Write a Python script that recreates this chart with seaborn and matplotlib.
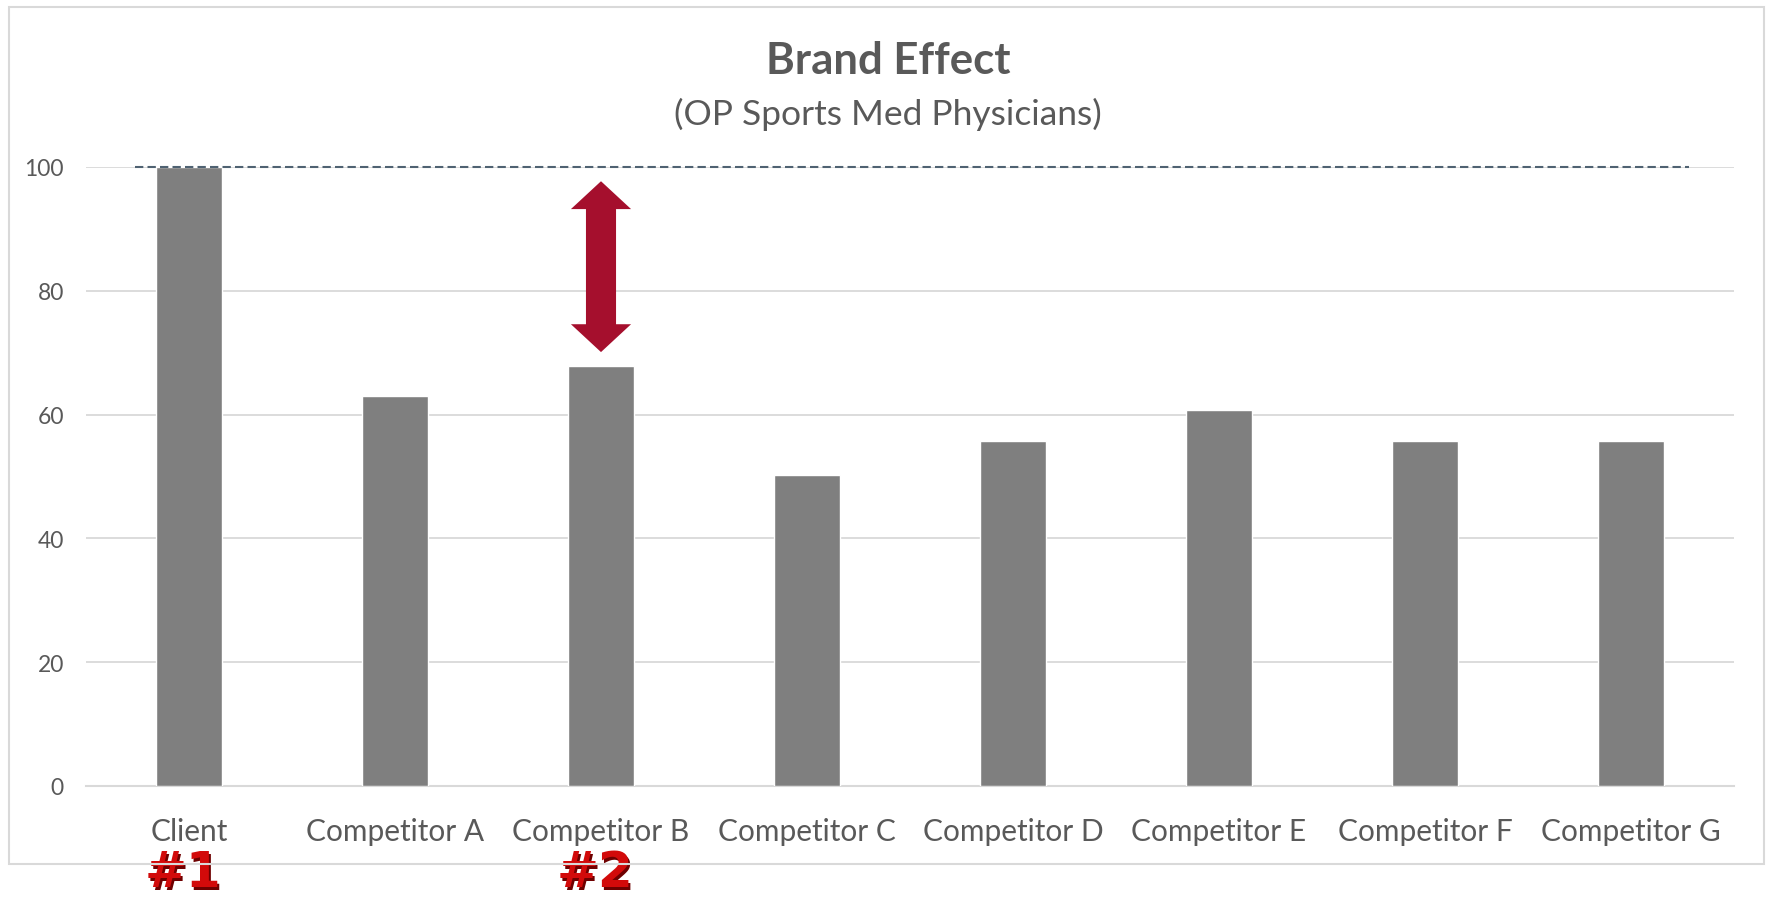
import pandas as pd
import seaborn as sns
import matplotlib.pyplot as plt
import matplotlib.patches as mpatches

brands = ["Client", "Competitor A", "Competitor B", "Competitor C",
          "Competitor D", "Competitor E", "Competitor F", "Competitor G"]
scores = [100, 63.0, 67.8, 50.3, 55.7, 60.7, 55.7, 55.7]
ranks = {"Client": "#1", "Competitor B": "#2"}
y_ticks = [0, 20, 40, 60, 80, 100]

df = pd.DataFrame({"brand": brands, "score": scores})

sns.set_theme(style="white")
plt.rcParams["font.family"] = ["Lato", "DejaVu Sans"]

W, H = 1767, 903
fig = plt.figure(figsize=(W / 100, H / 100), dpi=100)
ax = fig.add_axes([86 / W, (H - 787) / H, (1734 - 86) / W, (787 - 168) / H])

sns.barplot(data=df, x="brand", y="score", color="#7f7f7f", width=0.32,
            saturation=1, ax=ax, zorder=3)

ax.set_xlim(-0.5, len(brands) - 0.5)
ax.set_ylim(0, 100)
ax.set_yticks(y_ticks)
ax.grid(axis="y", color="#d9d9d9", lw=1.3, zorder=0)
ax.set_axisbelow(True)
for s in ["top", "right", "left"]:
    ax.spines[s].set_visible(False)
ax.spines["bottom"].set_color("#d9d9d9")
ax.spines["bottom"].set_linewidth(1.5)
ax.tick_params(axis="y", length=0, pad=16, labelsize=16.5, labelcolor="#595959")
ax.tick_params(axis="x", length=0, pad=22, labelsize=21.5, labelcolor="#595959")
ax.set_xlabel("")
ax.set_ylabel("")

# dashed reference line at the client level
ax.plot([-0.26, 7.28], [scores[0], scores[0]], color="#4f6272", lw=1.5,
        dashes=(4, 2), zorder=4, clip_on=False)

# double-headed gap arrow over Competitor B
bx = brands.index("Competitor B")
top, bot = 97.7, 70.1
hw, sw, hl = 0.146, 0.073, 4.5
arrow = mpatches.Polygon([
    (bx, top), (bx + hw, top - hl), (bx + sw, top - hl), (bx + sw, bot + hl),
    (bx + hw, bot + hl), (bx, bot), (bx - hw, bot + hl), (bx - sw, bot + hl),
    (bx - sw, top - hl), (bx - hw, top - hl)],
    closed=True, facecolor="#a50f2d", edgecolor="none", zorder=5, clip_on=False)
ax.add_patch(arrow)

# rank badges
for name, lab in ranks.items():
    i = brands.index(name)
    ax.text(i - 0.02, -0.166, lab, transform=ax.get_xaxis_transform(),
            ha="center", va="baseline", fontsize=36, fontweight="black",
            color="#6e0000", family="DejaVu Sans", zorder=6, clip_on=False)
    ax.text(i - 0.028, -0.161, lab, transform=ax.get_xaxis_transform(),
            ha="center", va="baseline", fontsize=36, fontweight="black",
            color="#d20a0a", family="DejaVu Sans", zorder=7, clip_on=False)

fig.text(888 / W, 1 - 61 / H, "Brand Effect", ha="center", va="center",
         fontsize=31.5, fontweight="bold", color="#595959")
fig.text(888 / W, 1 - 114 / H, "(OP Sports Med Physicians)", ha="center",
         va="center", fontsize=25.5, color="#595959")

border = mpatches.Rectangle((9 / W, 1 - 865 / H), (1764 - 9) / W, (865 - 8) / H,
                            transform=fig.transFigure, fill=False,
                            edgecolor="#d9d9d9", lw=1.5, zorder=0)
fig.patches.append(border)

fig.savefig("out.png", dpi=100)
print("saved out.png")
